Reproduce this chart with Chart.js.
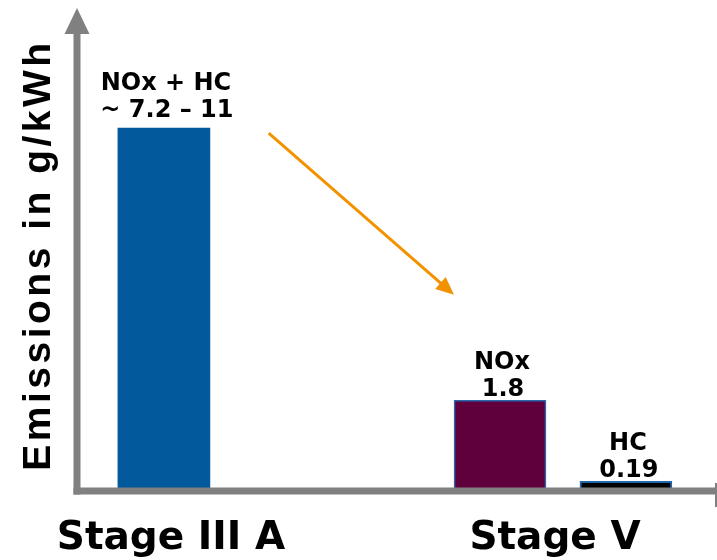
<!DOCTYPE html>
<html lang="en">

<head>
    <meta charset="UTF-8">
    <title>Emissions in g/kWh</title>
    <style>
        html,
        body {
            margin: 0;
            padding: 0;
            background: #ffffff;
        }

        #wrap {
            width: 717px;
            height: 560px;
        }
    </style>
</head>

<body>

    <div id="wrap"><canvas id="emissionChart" width="717" height="560"></canvas></div>

    <script src="https://cdn.jsdelivr.net/npm/chart.js@4"></script>

    <script>
        // values
        const stages = ['Stage III A', 'Stage V'];
        const pollutants = ['NOx + HC', 'NOx', 'HC'];
        const emissions = [7.2, 1.8, 0.19];
        const valueLabels = ['~ 7.2 \u2013 11', '1.8', '0.19'];

        // where things sit along the x scale (0..10)
        const barSlots = [1.36, 6.62, 8.59];
        const stageSlots = [1.47, 7.48];
        const labelGap = [11, 4, 4];

        const barColors = ['#02599c', '#5f003c', '#000000'];
        const barBorders = ['#02599c', '#2a69ad', '#2266ab'];
        const axisGrey = '#808080';
        const arrowOrange = '#f39200';

        const barFont = 'bold 24px "DejaVu Sans"';

        function arrowHead(ctx, x1, y1, x2, y2, len, half) {
            const a = Math.atan2(y2 - y1, x2 - x1);
            ctx.beginPath();
            ctx.moveTo(x2, y2);
            ctx.lineTo(x2 - len * Math.cos(a) + half * Math.sin(a), y2 - len * Math.sin(a) - half * Math.cos(a));
            ctx.lineTo(x2 - len * Math.cos(a) - half * Math.sin(a), y2 - len * Math.sin(a) + half * Math.cos(a));
            ctx.closePath();
            ctx.fill();
        }

        // axes, labels and the orange arrow are painted after the bars
        const decorations = {
            id: 'decorations',
            afterDatasetsDraw(chart) {
                const ctx = chart.ctx;
                const area = chart.chartArea;
                const xs = chart.scales.x;
                const ys = chart.scales.y;
                ctx.save();

                // y axis with arrow
                ctx.strokeStyle = axisGrey;
                ctx.fillStyle = axisGrey;
                ctx.lineWidth = 7;
                ctx.beginPath();
                ctx.moveTo(area.left, area.bottom + 3.5);
                ctx.lineTo(area.left, area.top + 22);
                ctx.stroke();
                arrowHead(ctx, area.left, area.bottom, area.left, area.top - 2, 26, 12.5);

                // x axis with end cap
                ctx.beginPath();
                ctx.moveTo(area.left - 3.5, area.bottom);
                ctx.lineTo(area.right, area.bottom);
                ctx.stroke();
                ctx.lineWidth = 2;
                ctx.beginPath();
                ctx.moveTo(area.right, area.bottom - 8);
                ctx.lineTo(area.right, area.bottom + 16);
                ctx.stroke();

                // labels above each bar
                ctx.fillStyle = '#000000';
                ctx.font = barFont;
                ctx.textAlign = 'center';
                ctx.textBaseline = 'alphabetic';
                emissions.forEach((v, i) => {
                    const cx = xs.getPixelForValue(barSlots[i]);
                    const top = ys.getPixelForValue(v);
                    ctx.fillText(valueLabels[i], cx + 3, top - labelGap[i]);
                    ctx.fillText(pollutants[i], cx + 2, top - labelGap[i] - 27);
                });

                // stage names under the axis
                ctx.font = 'bold 39px "DejaVu Sans"';
                stages.forEach((s, i) => {
                    ctx.fillText(s, xs.getPixelForValue(stageSlots[i]), 549);
                });

                // axis title
                ctx.save();
                ctx.translate(50, 255);
                ctx.rotate(-Math.PI / 2);
                ctx.font = 'bold 39px "Liberation Sans"';
                ctx.letterSpacing = '3.5px';
                ctx.fillText('Emissions in g/kWh', 0, 0);
                ctx.restore();

                // orange arrow between the stages
                const x1 = xs.getPixelForValue(3.0), y1 = ys.getPixelForValue(7.1);
                const x2 = xs.getPixelForValue(5.9), y2 = ys.getPixelForValue(3.89);
                const ang = Math.atan2(y2 - y1, x2 - x1);
                ctx.strokeStyle = arrowOrange;
                ctx.fillStyle = arrowOrange;
                ctx.lineWidth = 3;
                ctx.beginPath();
                ctx.moveTo(x1, y1);
                ctx.lineTo(x2 - 12 * Math.cos(ang), y2 - 12 * Math.sin(ang));
                ctx.stroke();
                arrowHead(ctx, x1, y1, x2, y2, 18, 8);

                ctx.restore();
            }
        };

        const ctx = document.getElementById('emissionChart').getContext('2d');
        const emissionChart = new Chart(ctx, {
            type: 'bar',
            data: {
                datasets: [{
                    label: 'Emissions',
                    data: emissions.map((v, i) => ({ x: barSlots[i], y: v })),
                    backgroundColor: barColors,
                    borderColor: barBorders,
                    borderWidth: [0, 1.5, 2],
                    barThickness: 92,
                    borderSkipped: false
                }]
            },
            options: {
                responsive: false,
                animation: false,
                events: [],
                layout: {
                    padding: { left: 77, right: 1, top: 10, bottom: 69 }
                },
                plugins: {
                    legend: { display: false },
                    tooltip: { enabled: false }
                },
                scales: {
                    x: { type: 'linear', min: 0, max: 10, offset: false, display: false },
                    y: { min: 0, max: 9.54, display: false }
                }
            },
            plugins: [decorations]
        });
    </script>

</body>

</html>
